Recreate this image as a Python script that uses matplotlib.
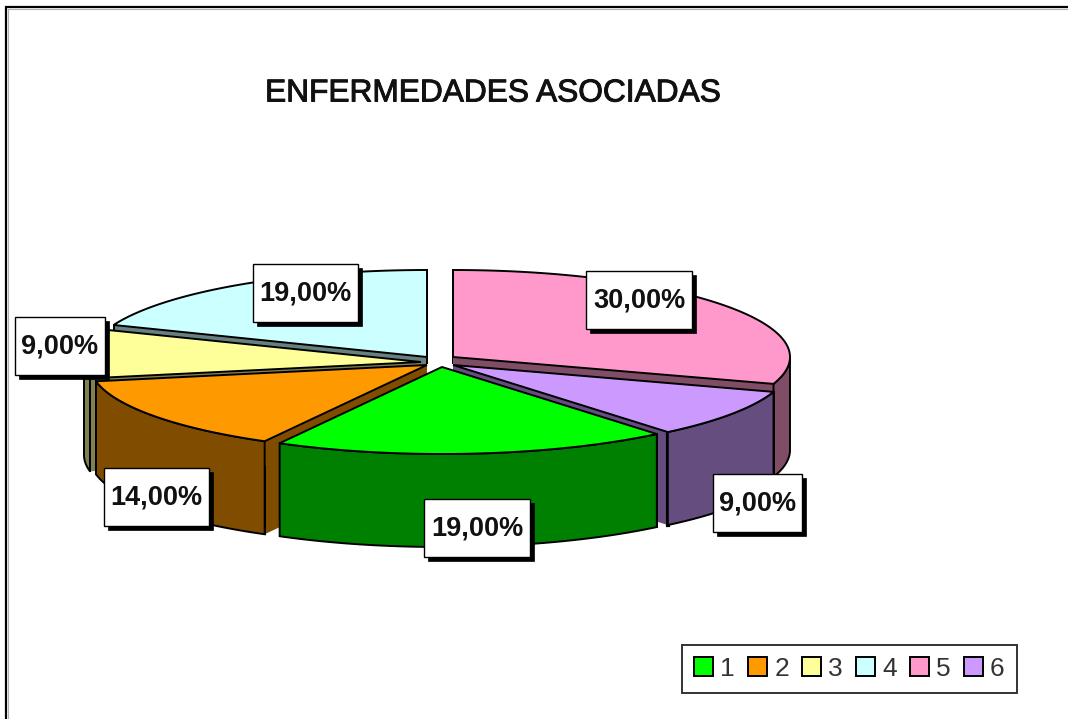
import numpy as np
import matplotlib
matplotlib.use("Agg")
import matplotlib.pyplot as plt
import matplotlib.patheffects as pe
from matplotlib.patches import Polygon, Rectangle, Patch

title = "ENFERMEDADES ASOCIADAS"
categories = ["1", "2", "3", "4", "5", "6"]
values = [19, 14, 9, 19, 30, 9]
top_colors = ["#00FF00", "#FF9900", "#FFFF99", "#CCFFFF", "#FF99CC", "#CC99FF"]
side_colors = ["#008000", "#804D00", "#808050", "#668080", "#804D66", "#664D80"]

# layout (pixels)
RX, RY, DEPTH = 337, 87, 93
apex = {"1": (442, 367), "2": (427, 365), "3": (421, 362),
        "4": (427, 357), "5": (453, 357), "6": (453, 365)}
boxes = {"1": (424, 499, 530, 557), "2": (104, 468, 209, 526), "3": (15, 317, 105, 375),
         "4": (253, 264, 358, 322), "5": (586, 271, 692, 329), "6": (713, 474, 802, 532)}
draw_order = ["4", "3", "2", "5", "6", "1"]

fig = plt.figure(figsize=(10.68, 7.19), dpi=100, facecolor="white")
ax = fig.add_axes([0, 0, 1, 1])
ax.set_xlim(0, 1068)
ax.set_ylim(719, 0)
ax.axis("off")

# chart frame (left and top only reach the picture)
ax.plot([6, 6, 1068], [719, 7, 7], color="black", lw=1.6, zorder=1, solid_joinstyle="miter")
ax.plot([8, 8, 1068], [719, 9, 9], color="#b0b0b0", lw=0.8, zorder=1)

# slice angles, clockwise from 12 o'clock, starting at series 5
start_order = ["5", "6", "1", "2", "3", "4"]
total = sum(values)
angles = {}
a = 90.0
for c in start_order:
    sweep = values[categories.index(c)] / total * 360
    angles[c] = (a, a - sweep)
    a -= sweep

z = 10
LW = 1.4
for c in draw_order:
    i = categories.index(c)
    a0, a1 = angles[c]
    ax0, ay0 = apex[c]
    t = np.radians(np.linspace(a0, a1, 120))
    xs = ax0 + RX * np.cos(t)
    ys = ay0 - RY * np.sin(t)
    # radial walls: filled, with a line only at the outer vertical corner
    for (px, py) in [(xs[0], ys[0]), (xs[-1], ys[-1])]:
        quad = [(ax0, ay0), (px, py), (px, py + DEPTH), (ax0, ay0 + DEPTH)]
        ax.add_patch(Polygon(quad, closed=True, fc=side_colors[i], ec="none", zorder=z))
        z += 1
        ax.plot([px, px], [py, py + DEPTH], color="black", lw=3 if c == "6" and py > 400 else LW, zorder=z)
        z += 1
    # outer wall (only the part facing the viewer)
    mask = np.sin(t) <= 0
    if mask.any():
        wx, wy = xs[mask], ys[mask]
        wall = np.r_[np.c_[wx, wy], np.c_[wx[::-1], wy[::-1] + DEPTH]]
        ax.add_patch(Polygon(wall, closed=True, fc=side_colors[i], ec="black", lw=LW, zorder=z))
        z += 1
    # top face
    top = np.r_[[[ax0, ay0]], np.c_[xs, ys]]
    ax.add_patch(Polygon(top, closed=True, fc=top_colors[i], ec="black", lw=LW, zorder=z))
    z += 1

# data labels
for c, v in zip(categories, values):
    x0, y0, x1, y1 = boxes[c]
    ax.add_patch(Rectangle((x0 + 4, y0 + 4), x1 - x0, y1 - y0, fc="black", ec="black", lw=0.5, zorder=100))
    ax.add_patch(Rectangle((x0, y0), x1 - x0, y1 - y0, fc="white", ec="black", lw=1.0, zorder=101))
    ax.text((x0 + x1) / 2, (y0 + y1) / 2 + 0.5, f"{v:.2f}".replace(".", ",") + "%",
            ha="center", va="center", fontsize=19.5, fontweight="bold",
            family="Liberation Sans", color="#111111", zorder=102)

ax.text(493, 93.5, title, ha="center", va="center", fontsize=22.8, family="Liberation Sans",
        color="#111111", zorder=5,
        path_effects=[pe.withStroke(linewidth=0.7, foreground="#111111")])

handles = [Patch(fc=top_colors[i], ec="black", lw=1.4) for i in range(len(categories))]
leg = ax.legend(handles, categories, ncol=6, loc="lower left",
                bbox_to_anchor=(682, 693), bbox_transform=ax.transData, borderaxespad=0,
                prop={"family": "Liberation Sans", "size": 19}, frameon=True, fancybox=False,
                edgecolor="#333333", facecolor="white", framealpha=1,
                handlelength=0.72, handleheight=0.72, handletextpad=0.27,
                columnspacing=0.50, borderpad=0.46, labelcolor="#333333")
leg.get_frame().set_linewidth(1.4)
leg.set_zorder(200)

fig.savefig("out.png", dpi=100, facecolor="white")
